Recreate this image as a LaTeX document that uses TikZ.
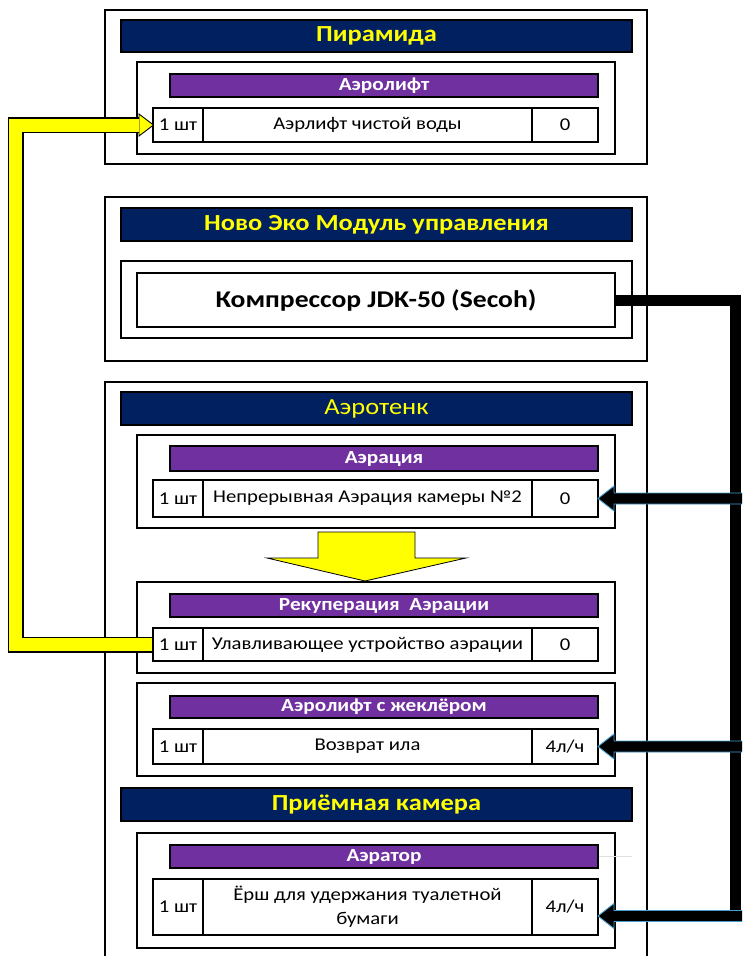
\documentclass[tikz,border=0pt]{standalone}
\usepackage{fontspec}
\setmainfont{Carlito}[FakeStretch=1.15]
\usetikzlibrary{calc}
\definecolor{navy}{RGB}{0,32,96}
\definecolor{purp}{RGB}{112,48,160}
\definecolor{yel}{RGB}{255,255,0}
\definecolor{arrowblue}{RGB}{70,160,210}
\newcommand{\boxnode}[7]{%
  \node[#2, minimum width={(#5-#3)*1pt}, minimum height={(#6-#4)*1pt}, inner sep=0pt, outer sep=0pt] (#1) at ({(#3+#5)/2},{(#4+#6)/2}) {#7};}
\newcommand{\rowcells}[6]{%
  \boxnode{#1-qty}{cell}{153}{#2}{203}{#3}{#4}
  \boxnode{#1-item}{cell}{203}{#2}{532}{#3}{#5}
  \boxnode{#1-val}{cell}{532}{#2}{598}{#3}{#6}}
\newcommand{\feedarrow}[2]{%
  \filldraw[fill=black, draw=arrowblue, line width=0.9pt]
    ($(#1.east)+(0,#2)$) -- ($(#1.east)+(16,#2-12.5)$) -- ($(#1.east)+(16,#2-5.5)$)
    -- ($(rightedge |- #1.east)+(0,#2-5.5)$) -- ($(rightedge |- #1.east)+(0,#2+5.5)$)
    -- ($(#1.east)+(16,#2+5.5)$) -- ($(#1.east)+(16,#2+12.5)$) -- cycle;}
\begin{document}
\begin{tikzpicture}[x=1pt,y=-1pt,
  frame/.style={draw=black, line width=1.6pt, fill=white},
  titlebar/.style={draw=black, line width=1.6pt, fill=navy, text=yel, font=\fontsize{23}{26}\selectfont\bfseries},
  titleplain/.style={draw=black, line width=1.6pt, fill=navy, text=yel, font=\fontsize{23}{26}\selectfont},
  subbar/.style={draw=black, line width=1.6pt, fill=purp, text=white, font=\fontsize{18.5}{21}\selectfont\bfseries},
  cell/.style={draw=black, line width=1.6pt, fill=white, font=\fontsize{18}{24}\selectfont, align=center},
  bigcell/.style={draw=black, line width=1.6pt, fill=white, font=\fontsize{24}{28}\selectfont\bfseries},
]
\useasboundingbox (0,0) rectangle (742,956);
\fill[white] (0,0) rectangle (742,956);
\clip (0,0) rectangle (742,956);
\coordinate (rightedge) at (748,0);
\coordinate (yline) at (15.5,0);
\coordinate (bline) at (735.5,0);

% Pyramid
\boxnode{pyr}{frame}{105}{10}{647}{164}{}
\boxnode{pyr-title}{titlebar}{121}{20}{632}{52}{Пирамида}
\boxnode{pyr-box}{frame}{137}{62}{615}{154}{}
\boxnode{pyr-sub}{subbar}{170}{74}{598}{97}{Аэролифт}
\rowcells{pyr}{108}{142}{1 шт}{Аэрлифт чистой воды}{0}

% Novo Eco
\boxnode{novo}{frame}{105}{197}{647}{361}{}
\boxnode{novo-title}{titlebar}{121}{208}{632}{241}{Ново Эко Модуль управления}
\boxnode{novo-box}{frame}{121}{261}{632}{338}{}
\boxnode{comp}{bigcell}{137}{273}{615}{327}{Компрессор JDK-50 (Secoh)}

% Aerotank
\boxnode{aero}{frame}{105}{382}{647}{990}{}
\boxnode{aero-title}{titleplain}{121}{392}{632}{425}{Аэротенк}
\boxnode{aer-box}{frame}{137}{435}{615}{528}{}
\boxnode{aer-sub}{subbar}{170}{446}{598}{471}{Аэрация}
\rowcells{aer}{480}{517}{1 шт}{Непрерывная Аэрация камеры №2}{0}

\boxnode{rec-box}{frame}{137}{582}{615}{673}{}
\boxnode{rec-sub}{subbar}{170}{594}{598}{617}{Рекуперация~ Аэрации}
\rowcells{rec}{628}{661}{1 шт}{Улавливающее устройство аэрации}{0}

\boxnode{zh-box}{frame}{137}{683}{615}{776}{}
\boxnode{zh-sub}{subbar}{170}{696}{598}{718}{Аэролифт с жеклёром}
\rowcells{zh}{729}{764}{1 шт}{Возврат ила}{4л/ч}

\boxnode{priem-title}{titlebar}{121}{788}{632}{821}{Приёмная камера}
\boxnode{ator-box}{frame}{137}{833}{615}{948}{}
\draw[black!12, line width=0.8pt] (598,856) -- (632,856);
\boxnode{ator-sub}{subbar}{170}{845}{598}{868}{Аэратор}
\rowcells{ator}{879}{935}{1 шт}{Ёрш для удержания туалетной\\бумаги}{4л/ч}

% big yellow arrow between aeration and recuperation
\begin{scope}[shift={(aer-box.south)}]
\filldraw[fill=yel, draw=black, line width=0.8pt]
  (-58,4) -- (39,4) -- (39,30) -- (90,30) -- (-11,53) -- (-109,30) -- (-58,30) -- cycle;
\end{scope}

% yellow connector from recuperation to pyramid airlift
\draw[black, line width=16pt, line join=miter]
  (rec-qty.west) -| (yline |- pyr-qty.west) -- ($(pyr-qty.west)+(-13,0)$);
\filldraw[fill=yel, draw=black, line width=0.9pt]
  ($(pyr-qty.west)+(-14,-11)$) -- ($(pyr-qty.west)+(0.5,0)$) -- ($(pyr-qty.west)+(-14,11)$) -- cycle;
\draw[yel, line width=13pt, line join=miter]
  ($(rec-qty.west)+(-0.8,0)$) -| (yline |- pyr-qty.west) -- ($(pyr-qty.west)+(-13.6,0)$);

% black air line from compressor
\draw[black, line width=11pt, line join=miter]
  (comp.east) -| ($(bline |- ator-val.east)+(0,9)$);
\feedarrow{aer-val}{0}
\feedarrow{zh-val}{0}
\feedarrow{ator-val}{9}
\end{tikzpicture}
\end{document}
